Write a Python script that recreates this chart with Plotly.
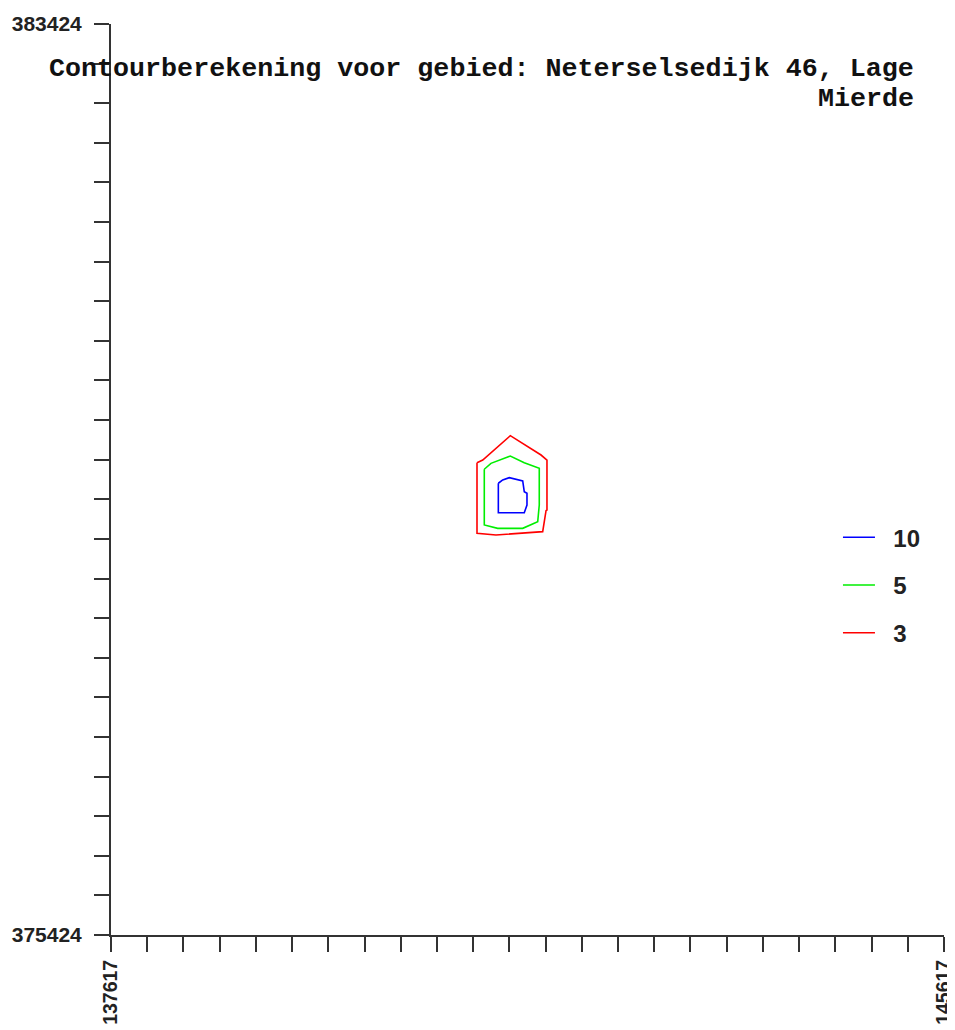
import plotly.graph_objects as go

# Axis extent (Dutch RD coordinates)
X_MIN, X_MAX = 137617, 145617
Y_MIN, Y_MAX = 375424, 383424
N_TICK_INTERVALS = 23

# Contour levels and colours
levels = ["10", "5", "3"]
colors = ["#0000ff", "#00ee00", "#ff0000"]

# Contour 10
c10_x = [141337, 141379, 141442, 141571, 141586, 141612, 141612, 141586, 141337, 141337]
c10_y = [379391, 379420, 379440, 379411, 379317, 379303, 379200, 379132, 379132, 379391]

# Contour 5
c5_x = [141202, 141266, 141452, 141586, 141730, 141730, 141715, 141571, 141331, 141202, 141202]
c5_y = [379514, 379566, 379630, 379572, 379522, 379200, 379053, 378995, 378995, 379025, 379514]

# Contour 3
c3_x = [141132, 141187, 141452, 141747, 141804, 141804, 141795, 141763, 141314, 141151, 141132, 141132]
c3_y = [379572, 379595, 379809, 379639, 379595, 379156, 379150, 378966, 378937, 378952, 378952, 379572]

title_line1 = "Contourberekening voor gebied: Neterselsedijk 46, Lage"
title_line2 = "Mierde"

contours = [(c10_x, c10_y), (c5_x, c5_y), (c3_x, c3_y)]

fig = go.Figure()
for (xs, ys), lab, col in zip(contours, levels, colors):
    fig.add_trace(go.Scatter(
        x=xs, y=ys, mode="lines", name="\u00a0\u00a0" + lab, legendgroup=lab,
        line=dict(color=col, width=1.6),
    ))

step_x = (X_MAX - X_MIN) / N_TICK_INTERVALS
step_y = (Y_MAX - Y_MIN) / N_TICK_INTERVALS
xtickvals = [X_MIN + k * step_x for k in range(N_TICK_INTERVALS + 1)]
ytickvals = [Y_MIN + k * step_y for k in range(N_TICK_INTERVALS + 1)]
xticktext = [str(X_MIN)] + [""] * (N_TICK_INTERVALS - 1) + [str(X_MAX)]
yticktext = [str(Y_MIN)] + [""] * (N_TICK_INTERVALS - 1) + [str(Y_MAX)]

tickfont = dict(family="Liberation Sans", size=21, color="#222222", weight="bold")
xtickfont = dict(family="Liberation Sans", size=19.5, color="#222222", weight="bold")
axis_common = dict(
    showgrid=False, zeroline=False, showline=True, linecolor="#333333", linewidth=2,
    ticks="outside", tickcolor="#333333", tickwidth=2, ticklen=15,
    tickmode="array", automargin=False,
)

fig.update_xaxes(range=[X_MIN, X_MAX], tickvals=xtickvals, ticktext=xticktext,
                 tickangle=-90, ticklabelstandoff=0, tickfont=xtickfont, **axis_common)
fig.update_yaxes(range=[Y_MIN, Y_MAX], tickvals=ytickvals, ticktext=yticktext,
                 ticklabelstandoff=8, tickfont=tickfont, **axis_common)

title_font = dict(family="Liberation Mono", size=26.7, color="#111111", weight="bold")
fig.add_annotation(text=title_line1, xref="paper", yref="paper", x=0.9664, y=0.9506,
                   xanchor="right", yanchor="middle", showarrow=False, font=title_font)
fig.add_annotation(text=title_line2, xref="paper", yref="paper", x=0.9664, y=0.9177,
                   xanchor="right", yanchor="middle", showarrow=False, font=title_font)

# The page body adds an 8px offset, so the figure is 8px smaller than the window
fig.update_layout(
    width=947, height=1022, autosize=False,
    margin=dict(l=103, r=11, t=16, b=95),
    plot_bgcolor="white", paper_bgcolor="white",
    showlegend=True,
    legend=dict(x=0.8727, y=0.384, xanchor="left", yanchor="middle",
                font=dict(family="Liberation Sans", size=24, color="#222222", weight="bold"),
                itemwidth=32, tracegroupgap=13.5, bgcolor="rgba(0,0,0,0)",
                traceorder="grouped"),
)

fig.write_html("out.html")
